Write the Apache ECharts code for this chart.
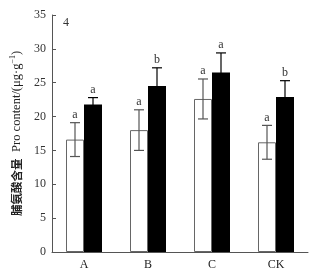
<!DOCTYPE html>
<html>
<head>
<meta charset="utf-8">
<script src="https://cdn.jsdelivr.net/npm/echarts@6/dist/echarts.min.js"></script>
<style>
  html, body { margin: 0; padding: 0; background: #fff; }
  #chart { width: 320px; height: 279px; }
</style>
</head>
<body>
<div id="chart"></div>
<script>
  const categories = ['A', 'B', 'C', 'CK']
  const whiteValues = [16.6, 18.0, 22.6, 16.2]
  const whiteErr = [2.5, 3.0, 2.95, 2.5]
  const whiteLetters = ['a', 'a', 'a', 'a']
  const blackValues = [21.8, 24.5, 26.5, 22.9]
  const blackErr = [1.0, 2.7, 2.9, 2.4]
  const blackLetters = ['a', 'b', 'a', 'b']

  const serif = '"Liberation Serif", "DejaVu Serif", serif'
  const barW = 18

  function errorSeries(values, errs, letters, offset, color) {
    return {
      type: 'custom',
      z: 10,
      data: values.map((v, i) => [i, v, errs[i], letters[i]]),
      renderItem(params, api) {
        const i = api.value(0)
        const v = api.value(1)
        const e = api.value(2)
        const top = api.coord([i, v + e])
        const bot = api.coord([i, v - e])
        const x = top[0] + offset
        const cap = 5
        const style = { stroke: color, lineWidth: 1.2 }
        return {
          type: 'group',
          children: [
            { type: 'line', shape: { x1: x, y1: top[1], x2: x, y2: bot[1] }, style },
            { type: 'line', shape: { x1: x - cap, y1: top[1], x2: x + cap, y2: top[1] }, style },
            { type: 'line', shape: { x1: x - cap, y1: bot[1], x2: x + cap, y2: bot[1] }, style },
            {
              type: 'text',
              style: {
                x: x, y: top[1] - 2, text: api.value(3),
                textAlign: 'center', textVerticalAlign: 'bottom',
                font: '12px ' + serif, fill: '#333'
              }
            }
          ]
        }
      }
    }
  }

  const myChart = echarts.init(document.getElementById('chart'))
  const option = {
    animation: false,
    grid: { left: 52, right: 12, top: 15, bottom: 27 },
    graphic: [
      { type: 'text', left: 63, top: 17, style: { text: '4', font: '12px ' + serif, fill: '#333' } }
    ],
    xAxis: {
      type: 'category',
      data: categories,
      axisLine: { lineStyle: { color: '#555', width: 1 } },
      axisTick: { inside: true, length: 4, lineStyle: { color: '#555' } },
      axisLabel: { color: '#222', fontFamily: serif, fontSize: 12, margin: 7 }
    },
    yAxis: {
      type: 'value',
      min: 0,
      max: 35,
      interval: 5,
      name: '{cn|脯氨酸含量}  {en|Pro content/(μg·g}{sup|−1}{en|)}',
      nameLocation: 'middle',
      nameGap: 26,
      nameTextStyle: {
        rich: {
          cn: { fontFamily: '"Noto Sans CJK SC"', fontWeight: 'bold', fontSize: 11.5, color: '#222' },
          en: { fontFamily: serif, fontSize: 12.5, color: '#222' },
          sup: { fontFamily: serif, fontSize: 8, color: '#222', padding: [0, 0, 7, 0] }
        }
      },
      splitLine: { show: false },
      axisLine: { show: true, lineStyle: { color: '#555', width: 1 } },
      axisTick: { show: true, inside: true, length: 4, lineStyle: { color: '#555' } },
      axisLabel: { color: '#333', fontFamily: serif, fontSize: 12, margin: 6 }
    },
    series: [
      {
        type: 'bar',
        data: whiteValues,
        barWidth: barW,
        barGap: '0%',
        itemStyle: { color: '#fff', borderColor: '#666', borderWidth: 1 }
      },
      {
        type: 'bar',
        data: blackValues,
        barWidth: barW,
        itemStyle: { color: '#000' }
      },
      errorSeries(whiteValues, whiteErr, whiteLetters, -barW / 2, '#555'),
      errorSeries(blackValues, blackErr, blackLetters, barW / 2, '#000')
    ]
  }
  myChart.setOption(option)
</script>
</body>
</html>
